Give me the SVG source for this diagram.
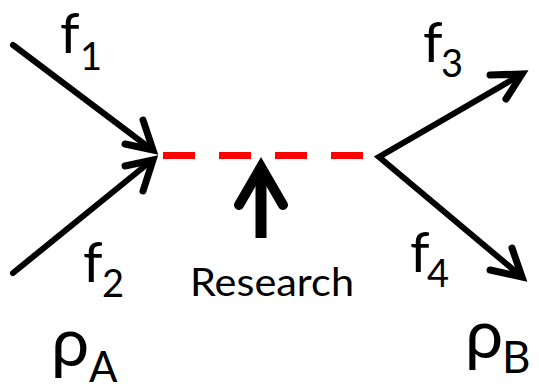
<svg xmlns="http://www.w3.org/2000/svg" width="539" height="389" viewBox="0 0 539 389">
<style>
.ln{fill:none;stroke:#000;stroke-width:6;stroke-linecap:round;stroke-linejoin:miter;stroke-miterlimit:10}
.hd{fill:none;stroke:#000;stroke-width:7;stroke-linecap:round;stroke-linejoin:miter;stroke-miterlimit:10}
.t{font-family:Lato,"Open Sans","DejaVu Sans",sans-serif;fill:#000}
</style>
<rect width="539" height="389" fill="#fff"/>
<g id="connectors">
<line x1="163" y1="155.5" x2="363" y2="155.5" stroke="#ff0000" stroke-width="7" stroke-dasharray="32 24"/>
<line class="ln" x1="13" y1="45" x2="151" y2="149"/>
<polyline class="hd" points="125,144 153,150 143,120"/>
<line class="ln" x1="13" y1="273" x2="151" y2="161"/>
<polyline class="hd" points="125,166 153,160 143,191"/>
<polyline class="ln" points="522,74 379,157 522,277"/>
<polyline class="hd" points="490,75 522,74 506,99"/>
<polyline class="hd" points="490,270 522,277 512,248"/>
<line x1="261" y1="238" x2="261" y2="170" stroke="#000" stroke-width="11"/>
<polyline points="239,205 261,167 283,205" fill="none" stroke="#000" stroke-width="10" stroke-linecap="round" stroke-linejoin="miter" stroke-miterlimit="10"/>
</g>
<g id="f1"><text class="t" x="60" y="53" font-size="56">f<tspan x="80" y="70" font-size="38">1</tspan></text></g>
<g id="f2"><text class="t" x="83" y="282" font-size="56">f<tspan x="102" y="297" font-size="38">2</tspan></text></g>
<g id="f3"><text class="t" x="423" y="62" font-size="56">f<tspan x="441" y="77" font-size="38">3</tspan></text></g>
<g id="f4"><text class="t" x="410" y="272" font-size="56">f<tspan x="427" y="287" font-size="38">4</tspan></text></g>
<g id="research"><text class="t" x="190" y="296" font-size="38" textLength="164" lengthAdjust="spacingAndGlyphs">Research</text></g>
<g id="rhoA"><text class="t" x="51" y="366" font-size="68">ρ<tspan x="89" y="382" font-size="42">A</tspan></text></g>
<g id="rhoB"><text class="t" x="465" y="358" font-size="68">ρ<tspan x="502" y="373" font-size="44">B</tspan></text></g>
</svg>
